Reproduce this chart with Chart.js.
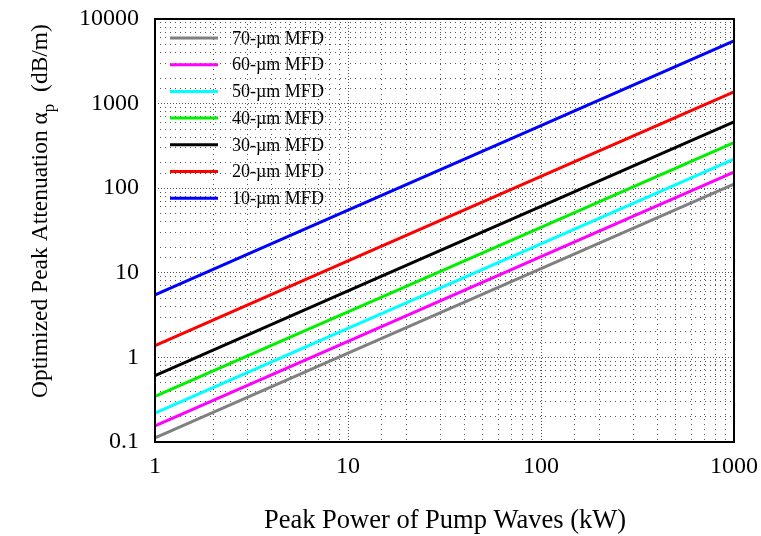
<!DOCTYPE html>
<html>
<head>
<meta charset="utf-8">
<script src="https://cdn.jsdelivr.net/npm/chart.js@4"></script>
<style>
html, body { margin: 0; padding: 0; background: #fff; }
</style>
</head>
<body>
<canvas id="grafico" width="761" height="536"></canvas>
<script>
// Potencia de pico (kW) en el eje X
const potencia = [1, 10, 100, 1000];

// Atenuación pico optimizada (dB/m) por diámetro de campo modal
const mfd70 = [0.112, 1.12, 11.2, 112];
const mfd60 = [0.155, 1.55, 15.5, 155];
const mfd50 = [0.22, 2.2, 22, 220];
const mfd40 = [0.345, 3.45, 34.5, 345];
const mfd30 = [0.61, 6.1, 61, 610];
const mfd20 = [1.38, 13.8, 138, 1380];
const mfd10 = [5.5, 55, 550, 5500];

const nombres = ['70-\u00b5m MFD', '60-\u00b5m MFD', '50-\u00b5m MFD', '40-\u00b5m MFD', '30-\u00b5m MFD', '20-\u00b5m MFD', '10-\u00b5m MFD'];
const etiquetasX = ['1', '10', '100', '1000'];
const etiquetasY = ['0.1', '1', '10', '100', '1000', '10000'];

const colores = ['#808080', '#ff00ff', '#00ffff', '#00f000', '#000000', '#ff0000', '#0000ff'];
const series = [mfd70, mfd60, mfd50, mfd40, mfd30, mfd20, mfd10];

const fuente = "'Liberation Serif', 'Times New Roman', serif";

function esDecada(v) {
    const l = Math.log10(v);
    return Math.abs(l - Math.round(l)) < 1e-6;
}

function puntos(valores) {
    return potencia.map(function(p, i) { return { x: p, y: valores[i] }; });
}

function guionGrid(ctx) {
    if (!ctx.tick) return [];
    return esDecada(ctx.tick.value) ? [1, 2] : [1, 4];
}

// sin relleno extra por las etiquetas, el área la fija layout.padding
function quitarRelleno(scale) {
    scale.paddingTop = 0;
    scale.paddingBottom = 0;
    scale.paddingLeft = 0;
    scale.paddingRight = 0;
}

// Marco, leyenda y títulos dibujados a mano
const extras = {
    id: 'extras',
    afterDraw(chart) {
        const c = chart.ctx;
        const a = chart.chartArea;
        c.save();
        c.strokeStyle = '#000';
        c.lineWidth = 2;
        c.strokeRect(a.left, a.top, a.right - a.left, a.bottom - a.top);

        // leyenda
        c.font = '18px ' + fuente;
        c.textBaseline = 'middle';
        c.textAlign = 'left';
        chart.data.datasets.forEach(function(ds, i) {
            const y = 38 + i * 26.7;
            c.strokeStyle = ds.borderColor;
            c.lineWidth = 3;
            c.beginPath();
            c.moveTo(170, y);
            c.lineTo(218, y);
            c.stroke();
            c.fillStyle = '#000';
            c.fillText(ds.label, 232, y + 1);
        });

        // título eje X
        c.font = '26.5px ' + fuente;
        c.textAlign = 'center';
        c.textBaseline = 'alphabetic';
        c.fillText('Peak Power of Pump Waves (kW)', 445, 528);

        // título eje Y con subíndice
        const p1 = 'Optimized Peak Attenuation \u03b1';
        const p2 = '  (dB/m)';
        c.font = '23.5px ' + fuente;
        const w1 = c.measureText(p1).width;
        const w2 = c.measureText(p2).width;
        c.font = '17px ' + fuente;
        const ws = c.measureText('p').width;
        const total = w1 + ws + w2;
        c.translate(47, 211);
        c.rotate(-Math.PI / 2);
        c.textAlign = 'left';
        c.font = '23.5px ' + fuente;
        c.fillText(p1, -total / 2, 0);
        c.font = '17px ' + fuente;
        c.fillText('p', -total / 2 + w1, 7);
        c.font = '23.5px ' + fuente;
        c.fillText(p2, -total / 2 + w1 + ws, 0);
        c.restore();
    }
};

const ctx = document.getElementById('grafico').getContext('2d');
const grafico = new Chart(ctx, {
    type: 'line',
    data: {
        datasets: series.map(function(s, i) {
            return {
                label: nombres[i],
                data: puntos(s),
                borderColor: colores[i],
                backgroundColor: colores[i],
                borderWidth: 3,
                pointRadius: 0,
                tension: 0,
                fill: false
            };
        })
    },
    options: {
        responsive: false,
        animation: false,
        devicePixelRatio: 1,
        layout: { padding: { top: 19, right: 27, left: 0, bottom: 0 } },
        plugins: {
            legend: { display: false },
            tooltip: { enabled: false }
        },
        scales: {
            x: {
                type: 'logarithmic',
                min: 1,
                max: 1000,
                afterFit: function(scale) { scale.height = 94; quitarRelleno(scale); },
                grid: { color: '#555', lineWidth: 1, drawTicks: false },
                border: { display: false, dash: guionGrid },
                ticks: {
                    autoSkip: false,
                    maxRotation: 0,
                    padding: 10,
                    color: '#000',
                    font: { family: fuente, size: 24 },
                    callback: function(v) {
                        return esDecada(v) ? etiquetasX[Math.round(Math.log10(v))] : '';
                    }
                }
            },
            y: {
                type: 'logarithmic',
                min: 0.1,
                max: 10000,
                afterFit: function(scale) { scale.width = 155; quitarRelleno(scale); },
                grid: { color: '#555', lineWidth: 1, drawTicks: false },
                border: { display: false, dash: guionGrid },
                ticks: {
                    autoSkip: false,
                    padding: 16,
                    color: '#000',
                    font: { family: fuente, size: 24 },
                    callback: function(v) {
                        return esDecada(v) ? etiquetasY[Math.round(Math.log10(v)) + 1] : '';
                    }
                }
            }
        }
    },
    plugins: [extras]
});
</script>
</body>
</html>
